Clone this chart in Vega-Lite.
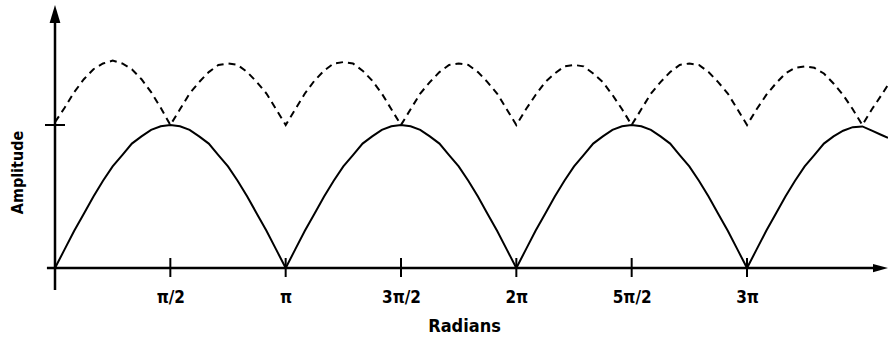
{
  "$schema": "https://vega.github.io/schema/vega-lite/v6.json",
  "autosize": "none",
  "width": 833,
  "height": 263,
  "padding": {"left": 55, "top": 5, "right": 0, "bottom": 69},
  "background": "white",
  "config": {"view": {"stroke": null}},
  "datasets": {
    "curves": [
      {"x": 0, "a": 0, "b": 1.02},
      {"x": 0.131, "a": 0.13, "b": 1.12},
      {"x": 0.262, "a": 0.26, "b": 1.23},
      {"x": 0.393, "a": 0.38, "b": 1.32},
      {"x": 0.524, "a": 0.5, "b": 1.39},
      {"x": 0.654, "a": 0.61, "b": 1.43},
      {"x": 0.785, "a": 0.71, "b": 1.45},
      {"x": 0.916, "a": 0.79, "b": 1.43},
      {"x": 1.047, "a": 0.87, "b": 1.39},
      {"x": 1.178, "a": 0.92, "b": 1.32},
      {"x": 1.309, "a": 0.966, "b": 1.23},
      {"x": 1.44, "a": 0.991, "b": 1.12},
      {"x": 1.571, "a": 1.0, "b": 1.0},
      {"x": 1.702, "a": 0.991, "b": 1.11},
      {"x": 1.833, "a": 0.966, "b": 1.22},
      {"x": 1.963, "a": 0.92, "b": 1.3},
      {"x": 2.094, "a": 0.87, "b": 1.37},
      {"x": 2.225, "a": 0.79, "b": 1.42},
      {"x": 2.356, "a": 0.71, "b": 1.43},
      {"x": 2.487, "a": 0.61, "b": 1.42},
      {"x": 2.618, "a": 0.5, "b": 1.37},
      {"x": 2.749, "a": 0.38, "b": 1.3},
      {"x": 2.88, "a": 0.26, "b": 1.22},
      {"x": 3.011, "a": 0.13, "b": 1.11},
      {"x": 3.142, "a": 0, "b": 1.0},
      {"x": 3.272, "a": 0.13, "b": 1.11},
      {"x": 3.403, "a": 0.26, "b": 1.22},
      {"x": 3.534, "a": 0.38, "b": 1.31},
      {"x": 3.665, "a": 0.5, "b": 1.38},
      {"x": 3.796, "a": 0.61, "b": 1.43},
      {"x": 3.927, "a": 0.71, "b": 1.44},
      {"x": 4.058, "a": 0.79, "b": 1.43},
      {"x": 4.189, "a": 0.87, "b": 1.38},
      {"x": 4.32, "a": 0.92, "b": 1.31},
      {"x": 4.451, "a": 0.966, "b": 1.22},
      {"x": 4.581, "a": 0.991, "b": 1.11},
      {"x": 4.712, "a": 1.0, "b": 1.0},
      {"x": 4.843, "a": 0.991, "b": 1.11},
      {"x": 4.974, "a": 0.966, "b": 1.22},
      {"x": 5.105, "a": 0.92, "b": 1.3},
      {"x": 5.236, "a": 0.87, "b": 1.37},
      {"x": 5.367, "a": 0.79, "b": 1.42},
      {"x": 5.498, "a": 0.71, "b": 1.43},
      {"x": 5.629, "a": 0.61, "b": 1.42},
      {"x": 5.76, "a": 0.5, "b": 1.37},
      {"x": 5.89, "a": 0.38, "b": 1.3},
      {"x": 6.021, "a": 0.26, "b": 1.22},
      {"x": 6.152, "a": 0.13, "b": 1.11},
      {"x": 6.283, "a": 0, "b": 1.0},
      {"x": 6.414, "a": 0.13, "b": 1.11},
      {"x": 6.545, "a": 0.26, "b": 1.21},
      {"x": 6.676, "a": 0.38, "b": 1.3},
      {"x": 6.807, "a": 0.5, "b": 1.36},
      {"x": 6.938, "a": 0.61, "b": 1.41},
      {"x": 7.069, "a": 0.71, "b": 1.42},
      {"x": 7.199, "a": 0.79, "b": 1.41},
      {"x": 7.33, "a": 0.87, "b": 1.36},
      {"x": 7.461, "a": 0.92, "b": 1.3},
      {"x": 7.592, "a": 0.966, "b": 1.21},
      {"x": 7.723, "a": 0.991, "b": 1.11},
      {"x": 7.854, "a": 1.0, "b": 1.0},
      {"x": 7.985, "a": 0.991, "b": 1.11},
      {"x": 8.116, "a": 0.966, "b": 1.22},
      {"x": 8.247, "a": 0.92, "b": 1.3},
      {"x": 8.378, "a": 0.87, "b": 1.37},
      {"x": 8.508, "a": 0.79, "b": 1.42},
      {"x": 8.639, "a": 0.71, "b": 1.43},
      {"x": 8.77, "a": 0.61, "b": 1.42},
      {"x": 8.901, "a": 0.5, "b": 1.37},
      {"x": 9.032, "a": 0.38, "b": 1.3},
      {"x": 9.163, "a": 0.26, "b": 1.22},
      {"x": 9.294, "a": 0.13, "b": 1.11},
      {"x": 9.425, "a": 0, "b": 1.0},
      {"x": 9.556, "a": 0.13, "b": 1.11},
      {"x": 9.687, "a": 0.26, "b": 1.21},
      {"x": 9.817, "a": 0.38, "b": 1.29},
      {"x": 9.948, "a": 0.5, "b": 1.36},
      {"x": 10.079, "a": 0.61, "b": 1.4},
      {"x": 10.21, "a": 0.71, "b": 1.41},
      {"x": 10.341, "a": 0.79, "b": 1.4},
      {"x": 10.472, "a": 0.87, "b": 1.36},
      {"x": 10.603, "a": 0.92, "b": 1.29},
      {"x": 10.734, "a": 0.96, "b": 1.21},
      {"x": 10.865, "a": 0.985, "b": 1.11},
      {"x": 10.996, "a": 0.99, "b": 1.0},
      {"x": 11.126, "a": 0.96, "b": 1.11},
      {"x": 11.257, "a": 0.93, "b": 1.21},
      {"x": 11.345, "a": 0.91, "b": 1.28}
    ],
    "ticks": [
      {"t": 1.5708}, {"t": 3.1416}, {"t": 4.7124}, {"t": 6.2832}, {"t": 7.854}, {"t": 9.4248}
    ],
    "one": [{"k": 1}]
  },
  "layer": [
    {
      "data": {"name": "curves"},
      "mark": {"type": "line", "color": "black", "strokeWidth": 2, "clip": false},
      "encoding": {
        "x": {
          "field": "x", "type": "quantitative",
          "scale": {"domain": [0, 11.345], "nice": false, "zero": false},
          "axis": {
            "title": "Radians",
            "values": [1.5708, 3.1416, 4.7124, 6.2832, 7.854, 9.4248],
            "labelExpr": "['', 'π/2', 'π', '3π/2', '2π', '5π/2', '3π'][round(datum.value / 1.5708)]",
            "domain": false, "ticks": false, "grid": false,
            "labelFont": "DejaVu Sans Condensed",
            "labelFontSize": 17, "labelFontWeight": "bold", "labelColor": "black",
            "labelPadding": 21, "labelFlush": false,
            "titleFont": "DejaVu Sans Condensed",
            "titleFontSize": 18, "titleFontWeight": "bold", "titleColor": "black",
            "titleX": 409, "titleY": 63, "titleBaseline": "alphabetic", "titleAlign": "center"
          }
        },
        "y": {
          "field": "a", "type": "quantitative",
          "scale": {"domain": [0, 1.839], "nice": false, "zero": false},
          "axis": {
            "title": "Amplitude",
            "labels": false, "domain": false, "ticks": false, "grid": false,
            "titleFont": "DejaVu Sans Condensed",
            "titleFontSize": 16, "titleFontWeight": "bold", "titleColor": "black",
            "titleAngle": -90, "titleX": -38, "titleY": 167,
            "titleBaseline": "middle", "titleAlign": "center"
          }
        }
      }
    },
    {
      "data": {"name": "curves"},
      "mark": {"type": "line", "color": "black", "strokeWidth": 2, "strokeDash": [7, 5], "clip": false},
      "encoding": {
        "x": {"field": "x", "type": "quantitative"},
        "y": {"field": "b", "type": "quantitative"}
      }
    },
    {
      "data": {"name": "one"},
      "mark": {"type": "rule", "color": "black", "strokeWidth": 2.5},
      "encoding": {
        "x": {"datum": -0.11, "type": "quantitative"},
        "x2": {"datum": 11.2},
        "y": {"datum": 0, "type": "quantitative"}
      }
    },
    {
      "data": {"name": "one"},
      "mark": {"type": "rule", "color": "black", "strokeWidth": 2.5},
      "encoding": {
        "x": {"datum": 0, "type": "quantitative"},
        "y": {"datum": -0.154, "type": "quantitative"},
        "y2": {"datum": 1.72}
      }
    },
    {
      "data": {"name": "ticks"},
      "mark": {"type": "rule", "color": "black", "strokeWidth": 2},
      "encoding": {
        "x": {"field": "t", "type": "quantitative"},
        "y": {"datum": -0.063, "type": "quantitative"},
        "y2": {"datum": 0.07}
      }
    },
    {
      "data": {"name": "one"},
      "mark": {"type": "rule", "color": "black", "strokeWidth": 2},
      "encoding": {
        "x": {"datum": -0.136, "type": "quantitative"},
        "x2": {"datum": 0.136},
        "y": {"datum": 1, "type": "quantitative"}
      }
    },
    {
      "data": {"name": "one"},
      "mark": {"type": "point", "shape": "M0,-1L-0.6,1L0.6,1Z", "size": 324, "filled": true, "color": "black", "opacity": 1},
      "encoding": {
        "x": {"datum": 0, "type": "quantitative"},
        "y": {"datum": 1.776, "type": "quantitative"}
      }
    },
    {
      "data": {"name": "one"},
      "mark": {"type": "point", "shape": "M1,0L-1,-0.55L-1,0.55Z", "size": 225, "filled": true, "color": "black", "opacity": 1},
      "encoding": {
        "x": {"datum": 11.243, "type": "quantitative"},
        "y": {"datum": 0, "type": "quantitative"}
      }
    }
  ]
}
